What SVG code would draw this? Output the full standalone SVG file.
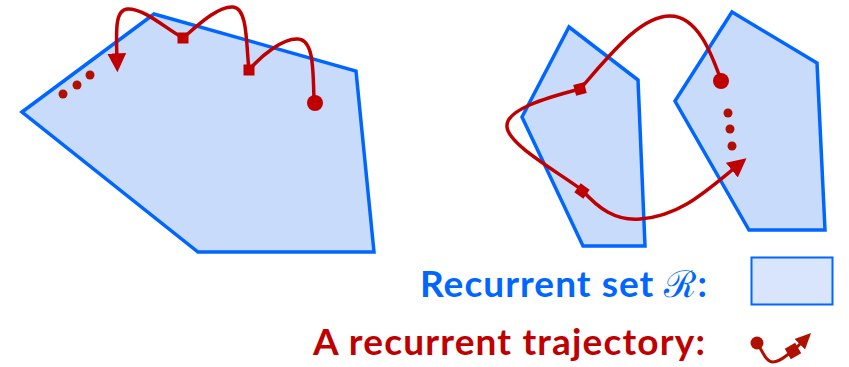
<svg xmlns="http://www.w3.org/2000/svg" width="849" height="367" viewBox="0 0 849 367">
  <style>
    .set { fill: #C9DBFA; stroke: #0066FF; stroke-width: 3.5; stroke-linejoin: miter; }
    .traj { fill: none; stroke: #C00000; stroke-width: 3.5; stroke-linecap: round; }
    .pt { fill: #C00000; }
    .dots { fill: #B01000; }
    .lbl { font-family: Lato, "Liberation Sans", sans-serif; font-weight: bold; font-size: 37px; }
  </style>
  <defs>
    <marker id="arr" markerUnits="userSpaceOnUse" markerWidth="20" markerHeight="20" viewBox="0 0 18 18" refX="6" refY="9" orient="auto">
      <path d="M0,0.5 L17,9 L0,17.5 z" fill="#C00000"/>
    </marker>
    <marker id="arrS" markerUnits="userSpaceOnUse" markerWidth="16" markerHeight="16" viewBox="0 0 14 14" refX="4" refY="7" orient="auto">
      <path d="M0,0.5 L14,7 L0,13.5 z" fill="#B01000"/>
    </marker>
  </defs>

  <g id="set-left">
    <polygon class="set" points="22,112 154,14 356,71 374,252 198,252"/>
  </g>
  <g id="set-right-a">
    <polygon class="set" points="569,27 638,80 645,246 583,246 522,117"/>
  </g>
  <g id="set-right-b">
    <polygon class="set" points="732,12 817,63 825,230 749,230 675,101"/>
  </g>

  <g id="connectors">
    <!-- left trajectory -->
    <path class="traj" d="M314,100 C313,70 314,40 298,39 C283,38 262,55 249,70"/>
    <path class="traj" d="M249,70 C246,45 248,8 233,7 C218,6 198,25 183,38"/>
    <path class="traj" d="M183,38 C165,28 145,9 128,9 C115,9 116,30 117,60" marker-end="url(#arr)"/>
    <!-- right trajectory -->
    <path class="traj" d="M721,80 C712,55 698,16 670,16 C640,16 610,55 580,89"/>
    <path class="traj" d="M580,89 C545,98 505,110 507,127 C509,145 555,170 582,190"/>
    <path class="traj" d="M582,190 C598,208 615,221 640,219 C680,216 705,192 737,166" marker-end="url(#arr)"/>
  </g>

  <g id="points-left">
    <circle class="pt" cx="315" cy="103" r="8"/>
    <rect class="pt" x="243.5" y="64.5" width="11" height="11"/>
    <rect class="pt" x="177.5" y="32.5" width="11" height="11"/>
    <circle class="dots" cx="63" cy="94" r="4.5"/>
    <circle class="dots" cx="77" cy="85" r="4.5"/>
    <circle class="dots" cx="90" cy="75" r="4.5"/>
  </g>
  <g id="points-right">
    <circle class="pt" cx="721" cy="81" r="8"/>
    <rect class="pt" x="574.5" y="83.5" width="11" height="11" transform="rotate(-15 580 89)"/>
    <rect class="pt" x="576.5" y="185.5" width="11" height="11" transform="rotate(35 582 191)"/>
    <circle class="dots" cx="728" cy="113" r="4.5"/>
    <circle class="dots" cx="730" cy="129" r="4.5"/>
    <circle class="dots" cx="732" cy="146" r="4.5"/>
  </g>

  <g id="legend-set">
    <text class="lbl" x="420" y="297" textLength="287" lengthAdjust="spacing" fill="#0066FF">Recurrent set <tspan font-family="'DejaVu Serif', serif" font-weight="normal">ℛ</tspan>:</text>
    <rect x="751.5" y="257.5" width="81" height="47" fill="#D9E5FC" stroke="#0066FF" stroke-width="2"/>
  </g>
  <g id="legend-trajectory">
    <text class="lbl" x="313" y="355" textLength="392" lengthAdjust="spacing" fill="#C00000">A recurrent trajectory:</text>
    <path d="M757,343 C763,352 766,362 773,362 C781,362 786,355 793,351 L803,341" fill="none" stroke="#B01000" stroke-width="3" stroke-linecap="round" marker-end="url(#arrS)"/>
    <circle cx="757" cy="343" r="6.5" fill="#B01000"/>
    <rect x="787" y="345" width="12" height="12" fill="#B01000" transform="rotate(-30 793 351)"/>
  </g>
</svg>
